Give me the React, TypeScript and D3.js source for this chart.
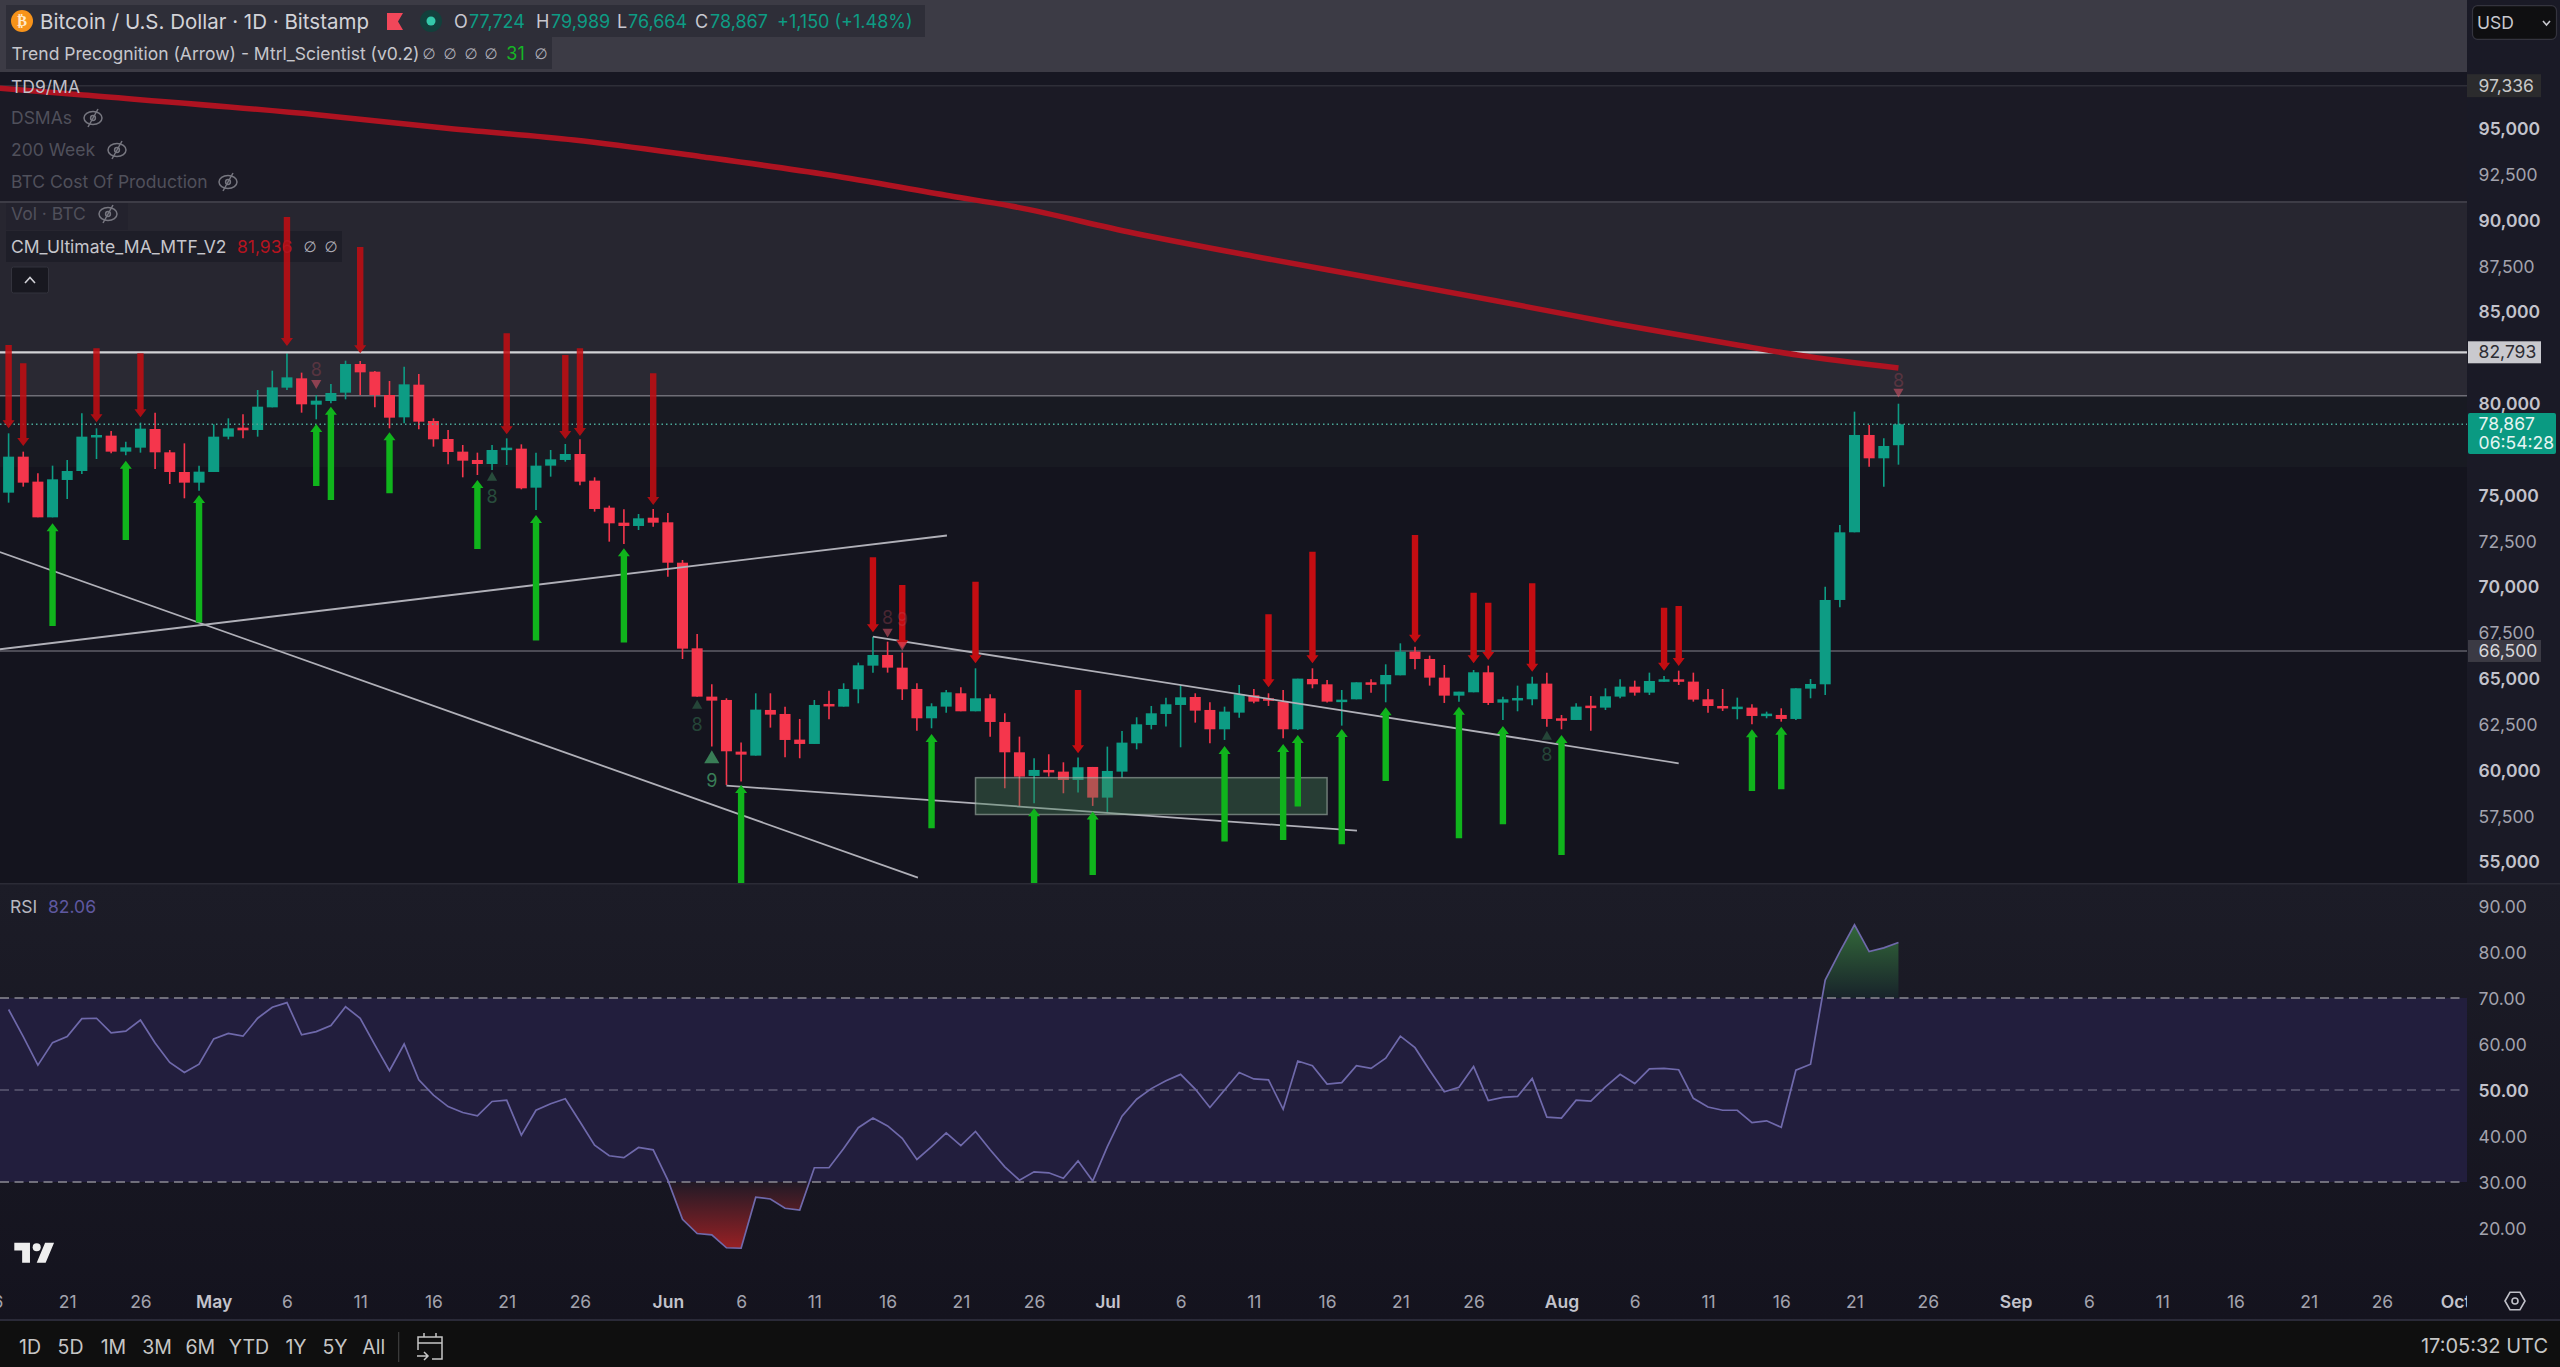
import { useEffect, useRef } from "react"
import * as d3 from "d3"

// day 0 = 17 Apr, day 129 = 24 Aug
const opens = [75137,77100,75737,73790,75828,76318,78191,78246,77373,77591,78609,77337,76264,75682,76264,78191,78682,78555,79791,80864,81373,79936,80136,80591,82154,81736,80464,79245,81027,79046,78064,77373,76919,76700,77518,77537,75409,76610,76919,77246,75791,74319,73500,73319,73771,73520,71316,66646,64010,63828,61010,60792,63283,63064,61665,61428,63610,63464,64410,65700,66282,65591,64428,62828,63464,64192,63210,63919,62628,60973,59683,60010,59919,59465,60174,58501,59919,61465,62464,63064,63555,63991,63283,62228,63137,64082,63919,63737,62228,64973,64682,63773,63864,64791,64682,65173,66464,66064,65046,64064,64246,65337,63682,63864,63864,64719,62828,62737,63519,63410,64010,64555,64228,64882,64955,64828,63864,63500,63391,63410,63010,63010,62792,64446,64682,69282,72974,78283,77010,77724]
const highs = [78373,77373,76191,76610,76919,79464,78646,78500,77919,78955,79500,77464,77827,76610,78864,79191,79409,80736,81791,82736,81682,80464,81064,82336,82318,81773,81227,82009,81609,79191,78555,77736,77318,77736,78100,77773,77318,77464,77791,78046,75973,74428,74228,73973,74246,74027,71464,67428,64682,63919,61501,64192,64192,63464,62792,63828,64337,64737,65864,67282,67009,66410,64737,63646,64373,64519,65555,64137,63101,61828,60647,60865,60428,60683,60174,61283,62137,62883,63501,63955,64646,64192,63701,63464,64646,64428,64192,64373,64992,65555,64919,64373,64791,64955,65773,66918,66737,66246,65737,64282,65464,65700,64009,64610,65100,65318,63010,63646,64046,64464,64955,64882,65318,65137,65427,65318,64428,64428,63955,63591,63191,63373,64464,64973,70009,73372,79555,78828,78101,79989]
const lows = [74592,75464,73790,73790,74792,76155,76973,77282,77173,77319,76428,75609,74828,75246,76264,78046,78100,78191,79791,80736,79500,79136,80009,80227,80464,79791,78646,78919,78591,77646,76682,75973,76100,76373,76646,75318,74192,76009,76828,75537,74100,72464,72337,73100,73280,70553,66064,64010,61283,59192,59374,60792,62319,60701,60647,61428,62774,63464,63646,65319,65319,63828,62155,62283,63137,63210,63210,61828,59010,58010,58192,59647,58738,58774,58047,57647,59592,61137,62228,62374,61246,62592,61465,61646,62864,63646,63501,61737,62192,64464,63683,62428,63864,64228,63700,65173,65500,64610,63664,63737,64246,63555,62737,63210,63537,62373,62228,62737,62155,63282,63919,64064,64100,64828,64646,63737,63137,63228,62773,62500,62828,62646,62737,63919,64100,68882,72974,76556,75465,76664]
const closes = [77100,75682,73790,75864,76318,78191,78282,77373,77609,78628,77337,76264,75682,76282,78191,78646,78537,79827,80882,81427,79955,80155,80573,82154,81700,80464,79227,81045,79009,78046,77355,76882,76700,77464,77591,75373,76610,76955,77246,75737,74246,73464,73319,73737,73498,71316,66628,64010,63792,61028,60846,63301,63028,61646,61428,63555,63537,64428,65719,66282,65591,64410,62828,63482,64246,63210,63919,62628,60973,59647,60010,59901,59465,60156,58501,59956,61501,62501,63101,63592,63973,63246,62228,63192,64137,63737,63828,62228,64992,64682,63737,63846,64791,64664,65191,66464,66064,65046,64064,64282,65337,63664,63864,63937,64719,62792,62773,63464,63446,64028,64555,64228,64864,64955,64864,63846,63500,63373,63464,62955,63082,62792,64464,64700,69282,72972,78283,77010,77683,78867]

const rsiValues = [67.5,61.6,55.4,60.3,61.6,65.5,65.6,62.4,62.8,65.2,60.2,56,53.8,55.6,61.1,62.3,61.7,65.6,68,69,62,62.7,64,68.1,65.6,59.8,54.2,60,52.2,48.9,46.4,45.1,44.4,47.5,47.8,40.2,45.6,47,48.1,43.1,38,35.7,35.3,37.5,37,30.4,21.9,18.8,18.5,15.7,15.6,26.7,26.3,24.3,23.9,33.1,33.1,37.3,41.8,43.9,42.2,39.5,34.9,37.7,40.7,37.9,41,37,33.3,30.4,32.2,32,30.8,34.6,30.2,37.7,44.3,48,50.3,52,53.4,50.2,46.2,50,53.8,52.4,52.2,45.8,56.3,55.3,51.3,51.6,55.3,54.7,56.9,61.7,59.2,54.3,49.6,50.6,55.1,47.7,48.4,48.6,52.5,44.1,43.9,47.8,47.6,50.7,53.4,51.4,54.6,54.7,54.4,48.2,46.3,45.6,45.6,42.9,43.3,41.9,54.3,55.6,73.9,80.1,85.9,80.1,80.9,82.06]

const maDays = [-0.6,5.1,21.2,29.9,38.6,47.3,56,64.3,68.4,76.7,84.9,93.2,101.5,109.8,118,122.1,129]
const maValues = [97193,96827,95736,95011,94373,93462,92464,91318,90773,89316,88045,86829,85607,84336,83191,82645,81936]

const redArrowDays = [0,1,6,9,19,24,34,38,39,44,59,61,66,73,86,89,96,100,101,104,113,114]
const redArrowTops = [83191,82191,83009,82736,90173,88537,83827,82645,83009,81645,71609,70100,70282,64373,68500,71918,72827,69682,69136,70191,68864,68955]
const redArrowTips = [78646,77682,78973,79246,83136,82736,78318,78064,78228,74464,67518,66646,65828,60919,64519,65828,66955,65827,66009,65373,65428,65682]

const greenArrowDays = [3,8,13,21,22,26,32,36,42,50,63,70,74,83,87,88,91,94,99,102,106,119,121]
const greenArrowTips = [73464,76882,75010,78882,79827,78427,75828,73919,72101,59192,61973,57919,57738,61319,61428,61919,62246,63428,63464,62410,61919,62228,62373]
const greenArrowTails = [67865,72555,68047,75501,74737,75101,72064,67065,66956,53829,56829,53829,54283,56101,56193,58010,55956,59410,56283,57047,55374,58865,58956]

// trend lines: [day, price, day, price]
const trendLines = [
    [-0.6, 71900, 62.07, 54135],
    [-0.6, 66593, 64.05, 72800],
    [59, 67280, 114, 60375],
    [49, 59153, 92.04, 56700],
]
const boxDays = [66, 90]
const boxPrices = [59590, 57580]

const tdUpDays = [33, 47, 48, 105]
const tdUpPrices = [75953, 63516, 60610, 61825]
const tdUpLabels = ["8", "8", "9", "8"]
const tdUpLabelPrices = [74916, 62457, 59425, 60828]
const tdUpAlpha = [0.4, 0.35, 0.75, 0.35]
const tdUpSizes = [45, 45, 100, 45]
const tdDownDays = [21, 60, 61, 129]
const tdDownPrices = [81118, 67553, 66827, 80644]
const tdDownLabels = ["8", "8", "9", "8"]
const tdDownLabelPrices = [81827, 68316, 68191, 81243]

const priceTicks = [95000,92500,90000,87500,85000,80000,75000,72500,70000,67500,65000,62500,60000,57500,55000]
const rsiTicks = [90,80,70,60,50,40,30,20]
const timeDays = [-1,4,9,14,19,24,29,34,39,45,50,55,60,65,70,75,80,85,90,95,100,106,111,116,121,126,131,137,142,147,152,157,162,167]
const timeLabels = ["16","21","26","May","6","11","16","21","26","Jun","6","11","16","21","26","Jul","6","11","16","21","26","Aug","6","11","16","21","26","Sep","6","11","16","21","26","Oct"]
const rangeLabels = ["1D","5D","1M","3M","6M","YTD","1Y","5Y","All"]
const rangeCenters = [30,70.5,113.4,157,200.4,249,296,335,373.7]

const WIDTH = 2560
const HEIGHT = 1367
const PLOT_W = 2467
const PRICE_BOTTOM = 883
const RSI_BOTTOM = 1319
const FONT = "Inter, 'Noto Sans', sans-serif"

const x = d3.scaleLinear().domain([0, 129]).range([8.6, 8.6 + 129 * 14.65])
const y = d3.scaleLinear().domain([80000, 55000]).range([403.5, 861.8])
const yRsi = d3.scaleLinear().domain([50, 30]).range([1090, 1182])
const number = d3.format(",")

export default function App() {
    const svgRef = useRef(null)

    useEffect(() => {
        const svg = d3.select(svgRef.current)
        svg.selectAll("*").remove()
        const defs = svg.append("defs")

        defs.append("clipPath").attr("id", "price-clip").append("rect")
            .attr("width", PLOT_W).attr("height", PRICE_BOTTOM)
        defs.append("clipPath").attr("id", "plot-clip").append("rect")
            .attr("width", PLOT_W).attr("height", HEIGHT)
        defs.append("clipPath").attr("id", "over-clip").append("rect")
            .attr("width", PLOT_W).attr("y", 884).attr("height", yRsi(70) - 884)
        defs.append("clipPath").attr("id", "under-clip").append("rect")
            .attr("width", PLOT_W).attr("y", yRsi(30)).attr("height", 200)

        const gradient = (id, y1, y2, stops) => {
            const g = defs.append("linearGradient").attr("id", id)
                .attr("gradientUnits", "userSpaceOnUse")
                .attr("x1", 0).attr("x2", 0).attr("y1", y1).attr("y2", y2)
            stops.forEach(([o, c]) => g.append("stop").attr("offset", o).attr("stop-color", c))
        }
        gradient("over-fill", yRsi(86), yRsi(70), [[0, "#33693a"], [1, "#18232a"]])
        gradient("under-fill", yRsi(16), yRsi(30), [[0, "#942024"], [1, "#211a26"]])
        gradient("rsi-bg", 884, 1319, [[0, "#1c1c27"], [1, "#14131e"]])

        const rect = (px, py, w, h, fill) =>
            svg.append("rect").attr("x", px).attr("y", py).attr("width", w).attr("height", h).attr("fill", fill)

        const label = (parent, str, px, py, size, color, anchor = "start", weight = 400) =>
            parent.append("text").attr("x", px).attr("y", py).attr("dy", "0.35em")
                .attr("text-anchor", anchor).attr("font-family", FONT).attr("font-size", size)
                .attr("font-weight", weight).attr("fill", color).text(str)

        // backgrounds
        rect(0, 0, WIDTH, HEIGHT, "#1a1a26")
        rect(0, 0, PLOT_W, 72, "#3c3b45")
        rect(0, 72, PLOT_W, y(97336) - 72, "#171722")
        rect(0, y(97336), PLOT_W, y(90990) - y(97336), "#1b1a25")
        rect(0, y(90990), PLOT_W, y(82793) - y(90990), "#272630")
        rect(0, y(82793), PLOT_W, y(80425) - y(82793), "#2a2933")
        rect(0, y(80425), PLOT_W, 467 - y(80425), "#181a22")
        rect(0, 467, PLOT_W, PRICE_BOTTOM - 467, "#14141e")
        rect(0, 884, WIDTH, RSI_BOTTOM - 884, "url(#rsi-bg)")
        rect(0, yRsi(70), PLOT_W, yRsi(30) - yRsi(70), "#221e3d")
        rect(0, PRICE_BOTTOM, WIDTH, 1.5, "#2b2b36")
        rect(0, RSI_BOTTOM, WIDTH, 2, "#2a2a38")
        rect(0, RSI_BOTTOM + 2, WIDTH, HEIGHT - RSI_BOTTOM - 2, "#0f0f0f")

        // legend chips stay under the marks
        const chip = (px, py, w, h, fill = "#2e2e38") => rect(px, py, w, h, fill)
        chip(6, 5, 919, 32)
        chip(6, 37, 546, 32)
        chip(6, 202, 122, 28, "#23222d")
        chip(6, 231, 336, 31, "#1e1e28")

        const price = svg.append("g").attr("clip-path", "url(#price-clip)")

        const hLine = (p, color, w) =>
            price.append("line").attr("x1", 0).attr("x2", PLOT_W).attr("y1", y(p)).attr("y2", y(p))
                .attr("stroke", color).attr("stroke-width", w)
        hLine(97336, "#2e2e38", 1.5)
        hLine(90990, "#3d3c46", 2)
        hLine(80425, "#6f6e77", 1.5)
        hLine(66500, "#5f5e68", 1.5)

        // candles
        const days = d3.range(opens.length)
        const candleColor = (i) => (closes[i] >= opens[i] ? "#0d9c84" : "#f5364c")
        price.selectAll(".wick").data(days).enter().append("line")
            .attr("x1", (i) => x(i)).attr("x2", (i) => x(i))
            .attr("y1", (i) => y(highs[i])).attr("y2", (i) => y(lows[i]))
            .attr("stroke", candleColor).attr("stroke-width", 1.6)
        price.selectAll(".body").data(days).enter().append("rect")
            .attr("x", (i) => x(i) - 5.5).attr("width", 11)
            .attr("y", (i) => y(Math.max(opens[i], closes[i])))
            .attr("height", (i) => Math.max(2.5, Math.abs(y(opens[i]) - y(closes[i]))))
            .attr("fill", candleColor)

        hLine(82793, "#d2d2d6", 2.2)
        price.append("line").attr("x1", 0).attr("x2", PLOT_W)
            .attr("y1", y(78867)).attr("y2", y(78867))
            .attr("stroke", "#4ba898").attr("stroke-width", 1.5).attr("stroke-dasharray", "1.5 3")

        // moving average
        const maLine = d3.line().x((d) => x(d[0])).y((d) => y(d[1])).curve(d3.curveMonotoneX)
        price.append("path").attr("d", maLine(d3.zip(maDays, maValues)))
            .attr("fill", "none").attr("stroke", "#ae1321").attr("stroke-width", 5.5)

        // trend lines and the zone
        price.selectAll(".trend").data(trendLines).enter().append("line")
            .attr("x1", (d) => x(d[0])).attr("y1", (d) => y(d[1]))
            .attr("x2", (d) => x(d[2])).attr("y2", (d) => y(d[3]))
            .attr("stroke", "#b0b0b8").attr("stroke-width", 1.8)
        price.append("rect")
            .attr("x", x(boxDays[0])).attr("width", x(boxDays[1]) - x(boxDays[0]))
            .attr("y", y(boxPrices[0])).attr("height", y(boxPrices[1]) - y(boxPrices[0]))
            .attr("fill", "rgba(72,128,90,0.38)").attr("stroke", "rgba(175,190,180,0.55)").attr("stroke-width", 1.5)

        // arrows
        const arrow = (day, tip, tail) => {
            const p = d3.path()
            const cx = x(day)
            const dir = y(tail) > y(tip) ? 1 : -1
            p.moveTo(cx, y(tip))
            p.lineTo(cx + 6, y(tip) + dir * 8)
            p.lineTo(cx + 3.2, y(tip) + dir * 8)
            p.lineTo(cx + 3.2, y(tail))
            p.lineTo(cx - 3.2, y(tail))
            p.lineTo(cx - 3.2, y(tip) + dir * 8)
            p.lineTo(cx - 6, y(tip) + dir * 8)
            p.closePath()
            return p.toString()
        }
        price.selectAll(".red-arrow").data(redArrowDays).enter().append("path")
            .attr("d", (d, i) => arrow(d, redArrowTips[i], redArrowTops[i]))
            .attr("fill", "#c40d12").attr("opacity", (d, i) => (redArrowTops[i] > 80425 ? 0.85 : 1))
        price.selectAll(".green-arrow").data(greenArrowDays).enter().append("path")
            .attr("d", (d, i) => arrow(d, greenArrowTips[i], greenArrowTails[i]))
            .attr("fill", "#10b41c")

        // TD sequential marks
        price.selectAll(".td-up").data(tdUpDays).enter().append("path")
            .attr("d", (d, i) => d3.symbol().type(d3.symbolTriangle).size(tdUpSizes[i])())
            .attr("transform", (d, i) => `translate(${x(d)},${y(tdUpPrices[i])})`)
            .attr("fill", "#46a06a").attr("opacity", (d, i) => tdUpAlpha[i])
        tdUpDays.forEach((d, i) => {
            label(price, tdUpLabels[i], x(d), y(tdUpLabelPrices[i]), 18, "#46a06a", "middle").attr("opacity", tdUpAlpha[i])
        })
        price.selectAll(".td-down").data(tdDownDays).enter().append("path")
            .attr("d", d3.symbol().type(d3.symbolTriangle).size(45)())
            .attr("transform", (d, i) => `translate(${x(d)},${y(tdDownPrices[i])}) rotate(180)`)
            .attr("fill", "#e0566a").attr("opacity", 0.55)
        tdDownDays.forEach((d, i) => {
            label(price, tdDownLabels[i], x(d), y(tdDownLabelPrices[i]), 18, "#c05060", "middle").attr("opacity", 0.3)
        })

        // RSI
        const rsi = svg.append("g").attr("clip-path", "url(#plot-clip)")
        const rsiArea = (base) => d3.area().x((v, i) => x(i)).y0(yRsi(base)).y1((v) => yRsi(v))
        rsi.append("path").attr("d", rsiArea(70)(rsiValues))
            .attr("clip-path", "url(#over-clip)").attr("fill", "url(#over-fill)")
        rsi.append("path").attr("d", rsiArea(30)(rsiValues))
            .attr("clip-path", "url(#under-clip)").attr("fill", "url(#under-fill)")
        ;[70, 50, 30].forEach((lvl) => {
            rsi.append("line").attr("x1", 0).attr("x2", 2460).attr("y1", yRsi(lvl)).attr("y2", yRsi(lvl))
                .attr("stroke", lvl === 50 ? "#5d5b74" : "#8c8b94").attr("stroke-width", 1.5)
                .attr("stroke-dasharray", "9 5.5")
        })
        rsi.append("path")
            .attr("d", d3.line().x((v, i) => x(i)).y((v) => yRsi(v))(rsiValues))
            .attr("fill", "none").attr("stroke", "#6f69ab").attr("stroke-width", 1.7)

        // axes
        const styleAxis = (g, weightFn, colorFn) => {
            g.select(".domain").remove()
            g.selectAll("line").remove()
            g.selectAll("text")
                .attr("dy", "0.35em").attr("font-family", FONT).attr("font-size", 17.5)
                .attr("font-weight", weightFn).attr("fill", colorFn)
        }
        const priceAxis = svg.append("g").attr("transform", "translate(2478.6,0)")
            .call(d3.axisRight(y).tickValues(priceTicks).tickFormat(number).tickSize(0).tickPadding(0))
        styleAxis(priceAxis, (d) => (d % 5000 === 0 ? 600 : 400), (d) => (d % 5000 === 0 ? "#c3c3cc" : "#a3a3ae"))

        const rsiAxis = svg.append("g").attr("transform", "translate(2478.6,0)")
            .call(d3.axisRight(yRsi).tickValues(rsiTicks).tickFormat(d3.format(".2f")).tickSize(0).tickPadding(0))
        styleAxis(rsiAxis, (d) => (d === 50 ? 600 : 400), (d) => (d === 50 ? "#c3c3cc" : "#a3a3ae"))

        const timeAxis = svg.append("g").attr("transform", "translate(0,1301.7)")
            .attr("clip-path", "url(#time-clip)")
            .call(d3.axisBottom(x).tickValues(timeDays).tickFormat((d, i) => timeLabels[i]).tickSize(0).tickPadding(0))
        defs.append("clipPath").attr("id", "time-clip").append("rect")
            .attr("x", 0).attr("y", -20).attr("width", PLOT_W).attr("height", 40)
        const isMonth = (d, i) => timeLabels[i].length === 3
        styleAxis(timeAxis, (d, i) => (isMonth(d, i) ? 600 : 400), (d, i) => (isMonth(d, i) ? "#c3c3cc" : "#a3a3ae"))

        // price tags
        const tag = (p, px, w, h, fill, color) => {
            const cy = y(p)
            rect(px, cy - h / 2, w, h, fill)
            label(svg, number(p), 2478.6, cy, 17.5, color)
        }
        tag(97336, 2467, 74, 23, "#2b2b2d", "#c8c8c8")
        tag(82793, 2468, 73, 22, "#c9c9ce", "#2d2d33")
        tag(66500, 2468, 73, 22, "#3b3a44", "#d6d6da")
        svg.append("rect").attr("x", 2468).attr("y", 413).attr("width", 88).attr("height", 41)
            .attr("rx", 2).attr("fill", "#0a9a82")
        label(svg, number(78867), 2478.6, 424.3, 17.5, "#e6f5f2")
        label(svg, "06:54:28", 2478.6, 442.7, 17.5, "#e6f5f2")

        // legend
        svg.append("circle").attr("cx", 22).attr("cy", 21).attr("r", 11).attr("fill", "#f7931a")
        label(svg, "₿", 22, 21, 15, "#ffe9c8", "middle", 700).attr("font-family", "'DejaVu Sans'")
        label(svg, "Bitcoin / U.S. Dollar · 1D · Bitstamp", 40, 22, 20.5, "#d3d3d8")
        svg.append("path").attr("d", "M387 13H403L398 21.5L403 30H387Z").attr("fill", "#f2475a")
        svg.append("circle").attr("cx", 431).attr("cy", 21).attr("r", 11).attr("fill", "#12403c")
        svg.append("circle").attr("cx", 431).attr("cy", 21).attr("r", 4.5).attr("fill", "#34c9aa")

        const ohlcKeys = ["O", "H", "L", "C"]
        const ohlcKeyX = [454, 536, 617, 695]
        const ohlcValX = [469, 551, 628, 710]
        const last = opens.length - 1
        const ohlcVals = [opens[last], highs[last], lows[last], closes[last]]
        ohlcKeys.forEach((k, i) => {
            label(svg, k, ohlcKeyX[i], 22, 18, "#c8c8cf")
            label(svg, number(ohlcVals[i]), ohlcValX[i], 22, 18, "#0d9c84")
        })
        label(svg, "+1,150 (+1.48%)", 777, 22, 18, "#0d9c84")

        label(svg, "Trend Precognition (Arrow) - Mtrl_Scientist (v0.2)", 11.5, 54, 17.5, "#c6c6cc")
        ;[429, 450, 471, 491, 541].forEach((px) => label(svg, "∅", px, 54, 15, "#b0b0b8", "middle").attr("font-family", "'DejaVu Sans'"))
        label(svg, "31", 515.5, 54, 18, "#16b526", "middle")

        label(svg, "TD9/MA", 11, 86.7, 17.5, "#c0c0c8")
        const hidden = ["DSMAs", "200 Week", "BTC Cost Of Production", "Vol · BTC"]
        const hiddenY = [118, 150, 182, 214]
        const eyeX = [93, 117, 228, 108]
        hidden.forEach((t, i) => {
            label(svg, t, 11, hiddenY[i], 17.5, "#50505b")
            const eye = svg.append("g").attr("transform", `translate(${eyeX[i]},${hiddenY[i]})`)
                .attr("fill", "none").attr("stroke", "#777780").attr("stroke-width", 1.5)
            eye.append("ellipse").attr("rx", 9).attr("ry", 6.5)
            eye.append("circle").attr("r", 2.4)
            eye.append("line").attr("x1", -5).attr("y1", 9).attr("x2", 5).attr("y2", -9)
        })
        label(svg, "CM_Ultimate_MA_MTF_V2", 11, 246.7, 17.5, "#c6c6cc")
        label(svg, number(maValues[maValues.length - 1]), 237, 246.7, 17.5, "#b5141f")
        ;[310, 331].forEach((px) => label(svg, "∅", px, 246.7, 15, "#b0b0b8", "middle").attr("font-family", "'DejaVu Sans'"))
        svg.append("rect").attr("x", 11.5).attr("y", 267).attr("width", 37).attr("height", 26)
            .attr("rx", 2).attr("fill", "#181820").attr("stroke", "#33333d")
        svg.append("path").attr("d", "M25 283L30 277.5L35 283").attr("fill", "none")
            .attr("stroke", "#d0d0d6").attr("stroke-width", 1.6)

        label(svg, "RSI", 10, 906.7, 17.5, "#b8b8c0")
        label(svg, d3.format(".2f")(rsiValues[last]), 48, 906.7, 17.5, "#5f58a0")

        // USD button
        svg.append("rect").attr("x", 2472.5).attr("y", 5.7).attr("width", 84).attr("height", 33.6)
            .attr("rx", 5).attr("fill", "#0f0f11").attr("stroke", "#34343e").attr("stroke-width", 1.2)
        label(svg, "USD", 2477, 23, 17.5, "#c8c8ce")
        svg.append("path").attr("d", "M2543 21L2546.5 25L2550 21").attr("fill", "none")
            .attr("stroke", "#c8c8ce").attr("stroke-width", 1.6)

        // TradingView mark
        svg.append("path").attr("transform", "translate(14.3,1238.2) scale(1.12)")
            .attr("d", "M14 22H7V11H0V4h14v18zM28 22h-8l7.5-18h8L28 22z").attr("fill", "#eeeeee")
        svg.append("circle").attr("transform", "translate(14.3,1238.2) scale(1.12)")
            .attr("cx", 20).attr("cy", 8).attr("r", 3.6).attr("fill", "#eeeeee")

        // settings hexagon
        const hex = svg.append("g").attr("transform", "translate(2515,1301)").attr("fill", "none")
            .attr("stroke", "#c0c0c8").attr("stroke-width", 1.6)
        hex.append("path").attr("d", "M-10 0L-5 -8.7H5L10 0L5 8.7H-5Z")
        hex.append("circle").attr("r", 3)

        // bottom bar
        rangeLabels.forEach((t, i) => label(svg, t, rangeCenters[i], 1346.7, 19.5, "#c6c6c6", "middle"))
        rect(398, 1332, 1.3, 30, "#3a3a3a")
        const cal = svg.append("g").attr("transform", "translate(430,1347)").attr("fill", "none")
            .attr("stroke", "#c6c6c6").attr("stroke-width", 1.5)
        cal.append("path").attr("d", "M-12 3V-10H12V12H2M-12 -4H12M-6 -14V-10M6 -14V-10M-13 9H-2M-6 5L-2 9L-6 13")
        label(svg, "17:05:32 UTC", 2548, 1346, 20, "#c6c6c6", "end")
    }, [])

    return (
        <svg
            ref={svgRef}
            width={WIDTH}
            height={HEIGHT}
            style={{ position: "absolute", left: 0, top: 0, display: "block" }}
        ></svg>
    )
}
